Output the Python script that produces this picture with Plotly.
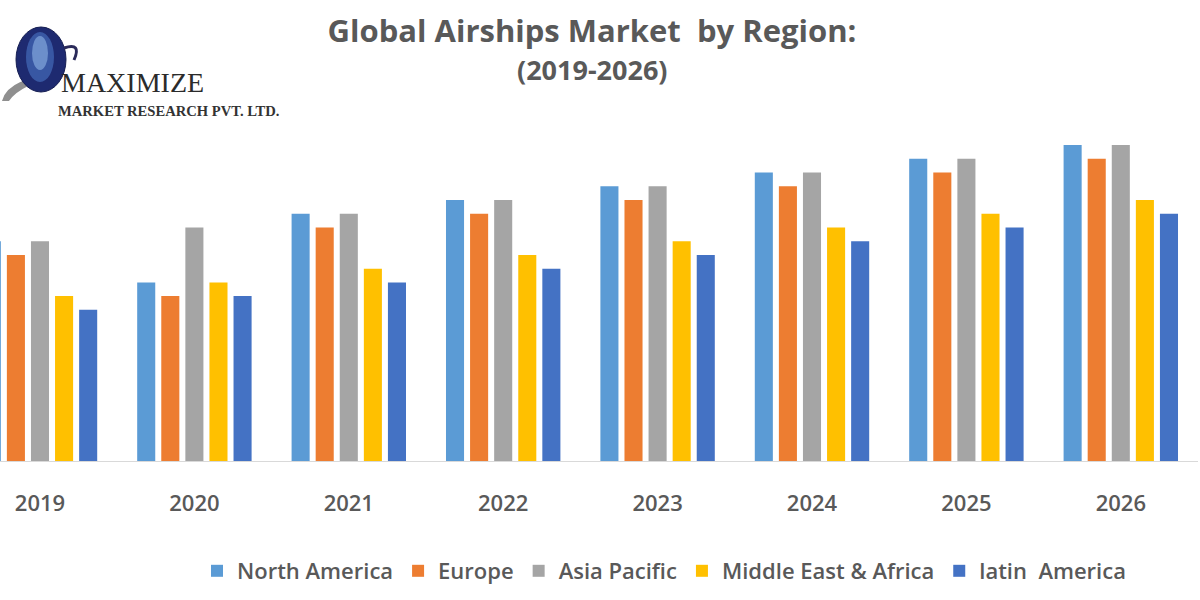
import plotly.graph_objects as go

years = ["2019", "2020", "2021", "2022", "2023", "2024", "2025", "2026"]
north_america = [16, 13, 18, 19, 20, 21, 22, 23]
europe = [15, 12, 17, 18, 19, 20, 21, 22]
asia_pacific = [16, 17, 18, 19, 20, 21, 22, 23]
middle_east_africa = [12, 13, 14, 15, 16, 17, 18, 19]
latin_america = [11, 12, 13, 14, 15, 16, 17, 18]

series = [
    ("North America", north_america, "#5B9BD5"),
    ("Europe", europe, "#ED7D31"),
    ("Asia Pacific", asia_pacific, "#A5A5A5"),
    ("Middle East & Africa", middle_east_africa, "#FFC000"),
    ("latin  America", latin_america, "#4472C4"),
]

W, H = 1200, 600
L, R, T, B = 0, 2, 130, 139
PW = W - L - R
PH = H - T - B


def px(x):
    return (x - L) / PW


def py(y):
    return (H - B - y) / PH


fig = go.Figure()
for name, vals, color in series:
    fig.add_trace(go.Bar(x=years, y=vals, name=name, marker_color=color,
                         marker_line_width=0))

text_gray = "#595959"
shapes = [
    # logo swoosh
    dict(type="path", xref="paper", yref="paper",
         path=f"M {px(2)},{py(101)} Q {px(8)},{py(76)} {px(66)},{py(74)} Q {px(20)},{py(84)} {px(9)},{py(101)} Z",
         fillcolor="#8f8f8f", line_width=0, layer="above"),
    # globe
    dict(type="circle", xref="paper", yref="paper",
         x0=px(16), x1=px(66), y0=py(92), y1=py(27),
         fillcolor="#1e2a70", line=dict(color="#141c50", width=1), layer="above"),
    dict(type="circle", xref="paper", yref="paper",
         x0=px(26), x1=px(54), y0=py(82), y1=py(32),
         fillcolor="#3f63b0", line_width=0, opacity=0.8, layer="above"),
    dict(type="circle", xref="paper", yref="paper",
         x0=px(32), x1=px(48), y0=py(70), y1=py(36),
         fillcolor="#8fb4e6", line_width=0, opacity=0.6, layer="above"),
    dict(type="path", xref="paper", yref="paper",
         path=f"M {px(64)},{py(48)} Q {px(82)},{py(42)} {px(74)},{py(60)}",
         line=dict(color="#2a2a5a", width=3), layer="above"),
]

annotations = [
    dict(text="<b>(2019-2026)</b>", x=px(592), y=py(70), xref="paper", yref="paper",
         showarrow=False, font=dict(family="Open Sans", size=27, color=text_gray),
         xanchor="center", yanchor="middle"),
    dict(text="MAXIMIZE", x=px(59), y=py(83), xref="paper", yref="paper",
         showarrow=False, font=dict(family="Liberation Serif", size=28, color="#2b2b2b"),
         xanchor="left", yanchor="middle"),
    dict(text="<b>MARKET RESEARCH PVT. LTD.</b>", x=px(56), y=py(111), xref="paper", yref="paper",
         showarrow=False, font=dict(family="Liberation Serif", size=14.6, color="#333333"),
         xanchor="left", yanchor="middle"),
]

fig.update_layout(
    width=W, height=H, autosize=False,
    margin=dict(l=L, r=R, t=T, b=B),
    paper_bgcolor="white", plot_bgcolor="white",
    barmode="group", bargap=0.22, bargroupgap=0.25,
    title=dict(text="<b>Global Airships Market  by Region:</b>", x=px(592), xanchor="center",
               xref="paper", y=1 - 31 / H, yanchor="middle",
               font=dict(family="Open Sans", size=31, color=text_gray)),
    xaxis=dict(range=[-0.259, 7.5], showline=True, linecolor="#d9d9d9", linewidth=1,
               showgrid=False, ticks="outside", ticklen=23, tickcolor="rgba(0,0,0,0)",
               tickfont=dict(family="Open Sans", size=22, color=text_gray, weight=600)),
    yaxis=dict(range=[0, PH / 13.74], visible=False, showgrid=False),
    legend=dict(orientation="h", x=px(664), xanchor="center", y=py(571), yanchor="middle",
                font=dict(family="Open Sans", size=22, color=text_gray, weight=600)),
    shapes=shapes,
    annotations=annotations,
)

fig.write_html("out.html")
